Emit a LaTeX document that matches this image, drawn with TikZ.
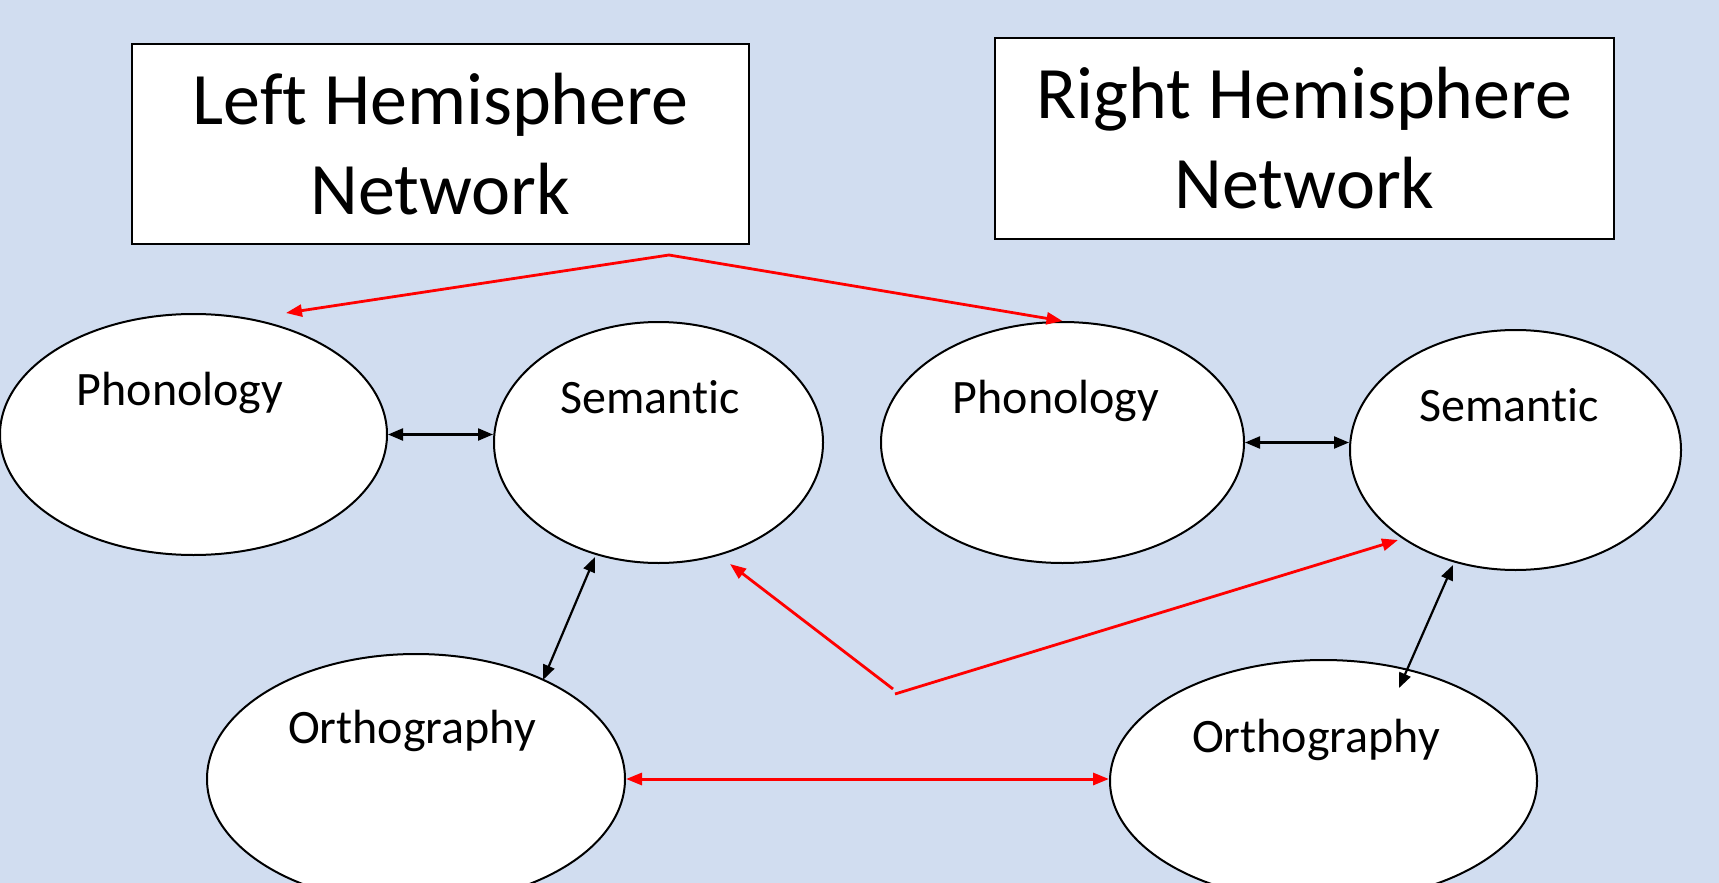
\documentclass[tikz,border=0pt]{standalone}
\usepackage{fontspec}
\setmainfont{Carlito}[Ligatures=NoCommon]
\usetikzlibrary{shapes.geometric,arrows.meta}
\definecolor{bgblue}{RGB}{209,221,240}
\definecolor{redline}{RGB}{255,0,0}
\tikzset{
  region/.style={draw=black, line width=1pt, fill=white, ellipse, inner sep=0pt},
  hembox/.style={draw=black, line width=1pt, fill=white, inner sep=0pt, align=center,
    font=\fontsize{37pt}{45pt}\selectfont},
  lbl/.style={anchor=base, inner sep=0pt, font=\fontsize{24pt}{28pt}\selectfont},
  blk/.style={draw=black, line width=1.1pt, {Triangle[length=7.5pt,width=6pt]}-{Triangle[length=7.5pt,width=6pt]}},
  redone/.style={draw=redline, line width=1.4pt, -{Triangle[length=8pt,width=6pt]}},
  redtwo/.style={draw=redline, line width=1.5pt, {Triangle[length=8pt,width=6pt]}-{Triangle[length=8pt,width=6pt]}},
}
\begin{document}
\begin{tikzpicture}[x=0.5pt,y=-0.5pt]
\useasboundingbox (0,0) rectangle (1719,883);
\clip (0,0) rectangle (1719,883);
\fill[bgblue] (0,0) rectangle (1719,883);

% boxes
\node[hembox, minimum width=308.5pt, minimum height=100pt] (LBox) at (440.5,144) {Left Hemisphere\\Network};
\node[hembox, minimum width=309.5pt, minimum height=100.5pt] (RBox) at (1304.5,138.5) {Right Hemisphere\\Network};

% ellipses
\node[region, minimum width=193.5pt, minimum height=120.5pt] (LPh) at (193.5,434.5) {};
\node[region, minimum width=164.5pt, minimum height=120.5pt] (LSe) at (658.5,442.5) {};
\node[region, minimum width=181.5pt, minimum height=120.5pt] (RPh) at (1062.5,442.5) {};
\node[region, minimum width=165.5pt, minimum height=120pt] (RSe) at (1515.5,450) {};
\node[region, minimum width=209pt, minimum height=125pt] (LOr) at (416,779) {};
\node[region, minimum width=213.5pt, minimum height=121pt] (ROr) at (1323.5,781) {};

% labels
\node[lbl] (LPhT) at (180,405) {Phonology};
\node[lbl] (LSeT) at (650,413) {Semantic};
\node[lbl] (RPhT) at (1056,413) {Phonology};
\node[lbl] (RSeT) at (1509,421) {Semantic};
\node[lbl] (LOrT) at (412,743) {Orthography};
\node[lbl] (ROrT) at (1316,752) {Orthography};

% coordinates
\coordinate (apexTop) at (669,255);
\coordinate (LPhIn) at (286,313);
\coordinate (apexMidL) at (893,689);
\coordinate (apexMidR) at (895,694);
\coordinate (LSeIn) at (730,564);
\coordinate (RSeIn) at (1398,540);
\coordinate (LSeB) at (595,557);
\coordinate (LOrT1) at (543,680);
\coordinate (RSeB) at (1453,565);
\coordinate (ROrT1) at (1399,688);

% red connectors
\draw[redone] (apexTop) -- (LPhIn);
\draw[redone] (apexTop) -- (RPh.north);
\draw[redone] (apexMidL) -- (LSeIn);
\draw[redone] (apexMidR) -- (RSeIn);
\draw[redtwo] (LOr.east) -- (LOr.east -| ROr.west);

% black connectors
\draw[blk] (LPh.east) -- (LPh.east -| LSe.west);
\draw[blk] (RPh.east) -- (RPh.east -| RSe.west);
\draw[blk] (LSeB) -- (LOrT1);
\draw[blk] (RSeB) -- (ROrT1);
\end{tikzpicture}
\end{document}
